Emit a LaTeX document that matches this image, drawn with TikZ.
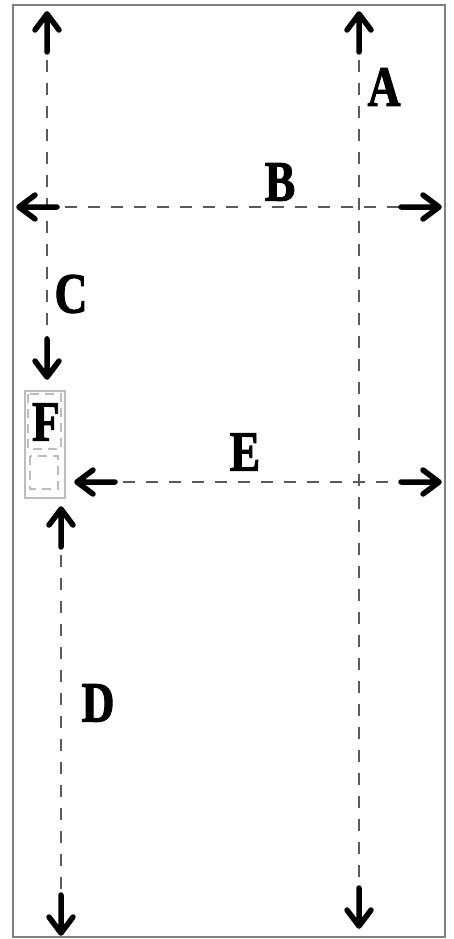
\documentclass[tikz,border=0pt]{standalone}
\usepackage{fontspec}
\setmainfont{Liberation Serif}
\newfontfamily\lblfont[FakeBold=2]{Liberation Serif Bold}
\usetikzlibrary{calc}
\definecolor{framegray}{HTML}{808080}
\definecolor{dashgray}{HTML}{5A5A5A}
\definecolor{boxgray}{HTML}{BDBDBD}
\begin{document}
\begin{tikzpicture}[x=1pt,y=-1pt,
  lbl/.style={inner sep=0pt,font=\fontsize{57}{57}\selectfont\lblfont},
  dimline/.style={draw=dashgray,line width=2.4pt,dash pattern=on 12pt off 11pt},
  tiparrow/.pic={\draw[black,line width=5.5pt,line cap=round,line join=round]
     (-12,16) -- (0,0) -- (12,16) (0,0) -- (0,38);}]
\useasboundingbox (0,0) rectangle (453,939);
\draw[framegray,line width=2pt] (13,5) rectangle (445,937);
% endpoints
\coordinate (A1) at (359,14);  \coordinate (A2) at (359,926);
\coordinate (B1) at (19,207);  \coordinate (B2) at (439,207);
\coordinate (C1) at (47,14);   \coordinate (C2) at (47,377);
\coordinate (D1) at (61,509);  \coordinate (D2) at (61,933);
\coordinate (E1) at (77,482);  \coordinate (E2) at (439,482);
\foreach \p in {A,B,C,D,E}{
  \draw[dimline] (\p1) -- (\p2);
}
\foreach \p in {A,C,D}{
  \pic at (\p1) {tiparrow};
  \pic[rotate=180] at (\p2) {tiparrow};
}
\foreach \p in {B,E}{
  \pic[rotate=90] at (\p1) {tiparrow};
  \pic[rotate=-90] at (\p2) {tiparrow};
}
% F box
\draw[boxgray,line width=1.5pt] (25,391) rectangle (65,498);
\draw[boxgray,line width=1.2pt,dash pattern=on 9pt off 6pt] (28,394) rectangle (61,449);
\draw[boxgray,line width=1.2pt,dash pattern=on 9pt off 6pt] (30,456) rectangle (58,489);
% labels
\node[lbl] (LA) at (384,87) {\scalebox{0.8}[1]{A}};
\node[lbl] (LB) at (280,182) {\scalebox{0.8}[1]{B}};
\node[lbl] (LC) at (71,294) {\scalebox{0.8}[1]{C}};
\node[lbl] (LD) at (98,703) {\scalebox{0.8}[1]{D}};
\node[lbl] (LE) at (245,452) {\scalebox{0.8}[1]{E}};
\node[lbl] (LF) at (46,422) {\scalebox{0.8}[1]{F}};
\end{tikzpicture}
\end{document}
